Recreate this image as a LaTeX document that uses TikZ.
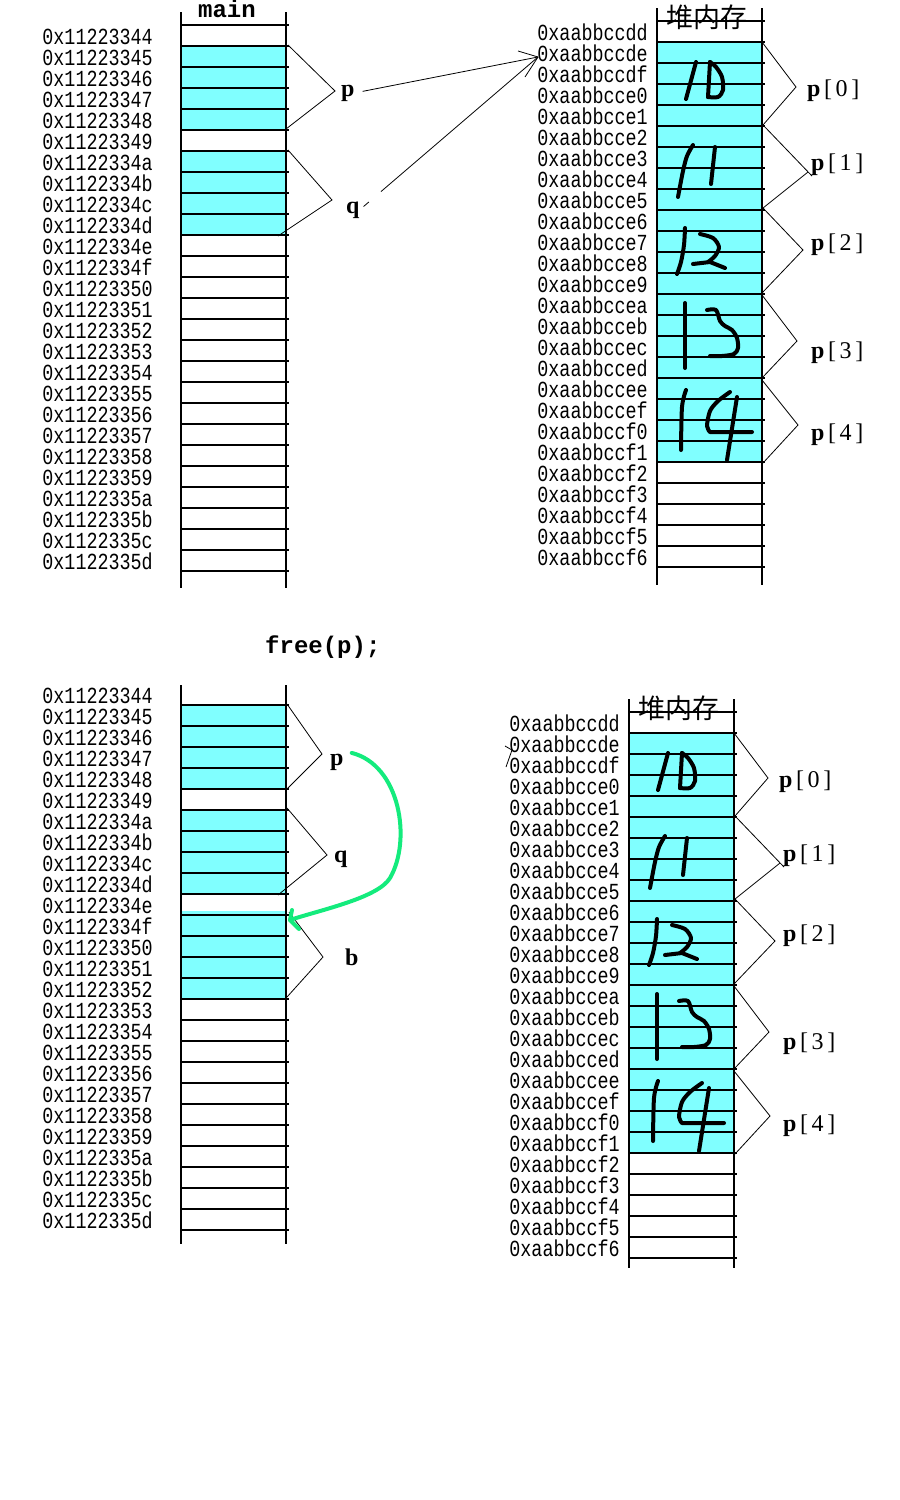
\documentclass[tikz,border=0pt]{standalone}
\usepackage{fontspec}
\setmainfont{Liberation Serif}
\newfontfamily\addrfont[FakeStretch=0.8]{Liberation Mono}
\newfontfamily\monobold{Liberation Mono}
\newfontfamily\cjkfont{Noto Sans CJK SC}
\newfontfamily\lblfont[LetterSpace=15]{Liberation Serif}
\usetikzlibrary{calc}
\definecolor{cellcyan}{RGB}{128,255,255}
\definecolor{pengreen}{RGB}{20,235,125}
\tikzset{
  addr/.style={anchor=base east, inner sep=0pt, font=\addrfont\fontsize{23}{23}\selectfont},
  grid/.style={line width=1.1pt},
  brace/.style={line width=0.8pt},
  var/.style={anchor=base west, inner sep=0pt, font=\bfseries\fontsize{24}{24}\selectfont},
  plab/.style={anchor=base west, inner sep=0pt, font=\lblfont\fontsize{24}{24}\selectfont},
  ttl/.style={anchor=base, inner sep=0pt, font=\monobold\bfseries\fontsize{24}{24}\selectfont},
  cjk/.style={inner sep=0pt, font=\cjkfont\fontsize{27}{27}\selectfont},
  hand/.style={line width=4pt, line cap=round, line join=round},
  pen/.style={pengreen, line width=4pt, line cap=round, line join=round},
}
\newcommand\heapblock[4]{%
\begin{scope}[shift={(#1,#2)}]
 \fill[cellcyan] (657,42) rectangle (762,462);
 \foreach \k in {0,...,26} \draw[grid] (657,21+21*\k) -- (765,21+21*\k);
 \draw[grid] (657,8) -- (657,#3) (762,8) -- (762,#3);
 \node[cjk] (#4hdr) at (706.5,17.5) {堆内存};
 \foreach \s [count=\i from 0] in {dd,de,df,e0,e1,e2,e3,e4,e5,e6,e7,e8,e9,ea,eb,ec,ed,ee,ef,f0,f1,f2,f3,f4,f5,f6}
   \node[addr] (#4a\i) at (648,40+21*\i) {0xaabbcc\s};
 \node[plab] (#4p0) at (807,96) {\textbf{p}[0]};
 \node[plab] (#4p1) at (811,170) {\textbf{p}[1]};
 \node[plab] (#4p2) at (811,250) {\textbf{p}[2]};
 \node[plab] (#4p3) at (811,358) {\textbf{p}[3]};
 \node[plab] (#4p4) at (811,440) {\textbf{p}[4]};
 \draw[brace] (762,42) -- (796,87) -- (763,125);
 \draw[brace] (763,125) -- (812,176);
 \draw[brace] (763,208) -- (808,172);
 \draw[brace] (763,208) -- (803,250) -- (762,293);
 \draw[brace] (762,295) -- (797,341) -- (762,378);
 \draw[brace] (762,380) -- (798,425) -- (763,463);
 \draw[hand] (696,62) -- (686,99);
 \draw[hand] (710,62) -- (708,97);
 \draw[hand] plot[smooth] coordinates {(710,62) (716,67) (722,77) (723,90) (718,97) (708,97)};
 \draw[hand] plot[smooth] coordinates {(693,145) (687,156) (683,171) (678,197)};
 \draw[hand] (715,147) -- (711,184);
 \draw[hand] plot[smooth] coordinates {(685,228) (684,245) (681,262) (677,274)};
 \draw[hand] plot[smooth] coordinates {(700,234) (713,238) (719,247) (715,256) (708,262)};
 \draw[hand] (693,264) -- (710,262) -- (725,268);
 \draw[hand] (685,303) -- (685,368);
 \draw[hand] plot[smooth] coordinates {(707,310) (716,310) (720,321) (725,326) (732,330) (737,338) (738,348) (734,354) (722,356) (710,356)};
 \draw[hand] plot[smooth] coordinates {(686,390) (682,407) (681,450)};
 \draw[hand] plot[smooth] coordinates {(730,392) (718,401) (710,411) (707,426) (710,432)} -- (752,432);
 \draw[hand] (737,397) -- (727,460);
\end{scope}}
\begin{document}
\begin{tikzpicture}[x=1pt,y=-1pt]
\useasboundingbox (0,0) rectangle (900,1500);
% ---------- top-left: main ----------
\fill[cellcyan] (181,46) rectangle (286,130);
\fill[cellcyan] (181,151) rectangle (286,235);
\foreach \k in {0,...,26} \draw[grid] (181,25+21*\k) -- (289,25+21*\k);
\draw[grid] (181,12) -- (181,588) (286,12) -- (286,588);
\node[ttl] (main) at (227,17) {main};
\foreach \s [count=\i from 0] in {44,45,46,47,48,49,4a,4b,4c,4d,4e,4f,50,51,52,53,54,55,56,57,58,59,5a,5b,5c,5d}
  \node[addr] (ta\i) at (153,44+21*\i) {0x112233\s};
\node[var] (tp) at (341,96) {p};
\node[var] (tq) at (346,213) {q};
\draw[brace] (288,45) -- (335,91) -- (286,129);
\draw[brace] (288,150) -- (332,200) -- (278,236);
% ---------- top-right: heap ----------
\heapblock{0}{0}{585}{th}
\coordinate (tgt) at (538,57);
\draw[brace, shorten <=8pt] (tp.east) -- (tgt);
\draw[brace] (518,51) -- (tgt);
\draw[brace] (525,77) -- (tgt);
\draw[brace] ($(tq.east)!28pt!(tgt)$) -- (tgt);
\draw[brace] ($(tq.east)!5pt!(tgt)$) -- ($(tq.east)!12pt!(tgt)$);
% ---------- free(p); ----------
\node[ttl, anchor=base west] (free) at (265,653) {free(p);};
% ---------- bottom-left: main after free ----------
\begin{scope}[shift={(0,659)}]
\fill[cellcyan] (181,46) rectangle (286,130);
\fill[cellcyan] (181,151) rectangle (286,235);
\fill[cellcyan] (181,252) rectangle (286,340);
\foreach \k in {1,...,26} \draw[grid] (181,25+21*\k) -- (289,25+21*\k);
\draw[grid] (181,26) -- (181,585) (286,26) -- (286,585);
\foreach \s [count=\i from 0] in {44,45,46,47,48,49,4a,4b,4c,4d,4e,4f,50,51,52,53,54,55,56,57,58,59,5a,5b,5c,5d}
  \node[addr] (ba\i) at (153,44+21*\i) {0x112233\s};
\end{scope}
\node[var] (bp) at (330,765) {p};
\node[var] (bq) at (334,862) {q};
\node[var] (bb) at (345,965) {b};
\draw[brace] (287,704) -- (322,754) -- (287,789);
\draw[brace] (287,808) -- (327,855) -- (278,895);
\draw[brace] (289,912) -- (323,957) -- (287,997);
\coordinate (btip) at (290,920);
\draw[pen] ([shift={(8,-9)}]bp.east) .. controls (400,765) and (412,840) .. (390,878)
   .. controls (378,898) and (320,910) .. (btip);
\draw[pen] (292,910) -- (btip) -- (299,929);
% ---------- bottom-right: heap ----------
\heapblock{-28}{691}{577}{bh}
\coordinate (ltip) at (512,750);
\draw[brace] (505,746) -- (ltip) -- (506,767);
\end{tikzpicture}
\end{document}
